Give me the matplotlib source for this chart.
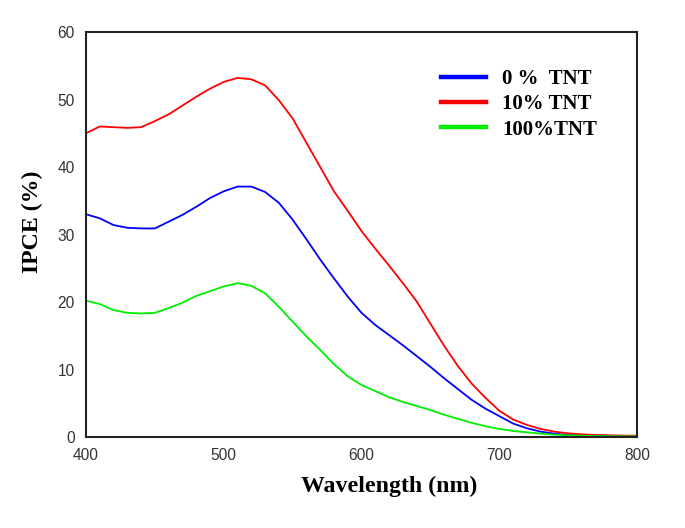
import matplotlib
matplotlib.use("Agg")
import matplotlib.pyplot as plt

wavelength = [400, 410, 420, 430, 440, 450, 460, 470, 480, 490, 500, 510, 520, 530, 540,
              550, 560, 570, 580, 590, 600, 610, 620, 630, 640, 650, 660, 670, 680, 690,
              700, 710, 720, 730, 740, 750, 760, 770, 780, 790, 800]

ipce_0 = [33.0, 32.4, 31.4, 31.0, 30.9, 30.9, 31.9, 32.9, 34.1, 35.4, 36.4, 37.1, 37.1, 36.3, 34.7,
          32.2, 29.3, 26.3, 23.5, 20.8, 18.4, 16.6, 15.1, 13.6, 12.0, 10.4, 8.7, 7.1, 5.5, 4.2,
          3.1, 2.0, 1.3, 0.8, 0.5, 0.3, 0.25, 0.2, 0.15, 0.12, 0.1]

ipce_10 = [45.0, 46.0, 45.9, 45.8, 45.9, 46.8, 47.8, 49.1, 50.4, 51.6, 52.6, 53.2, 53.0, 52.1, 49.9,
           47.2, 43.6, 40.0, 36.4, 33.5, 30.5, 27.9, 25.4, 22.8, 20.1, 16.8, 13.5, 10.5, 7.9, 5.8,
           3.9, 2.6, 1.8, 1.2, 0.8, 0.55, 0.4, 0.3, 0.25, 0.2, 0.2]

ipce_100 = [20.2, 19.7, 18.8, 18.4, 18.3, 18.4, 19.1, 19.9, 20.9, 21.6, 22.3, 22.8, 22.4, 21.3, 19.3,
            17.1, 14.9, 12.9, 10.8, 9.0, 7.7, 6.8, 5.9, 5.2, 4.6, 4.0, 3.3, 2.7, 2.1, 1.6,
            1.2, 0.9, 0.7, 0.5, 0.35, 0.25, 0.2, 0.15, 0.12, 0.1, 0.1]

labels = ["0 %  TNT", "10% TNT", "100%TNT"]
colors = ["#0000FF", "#FF0000", "#00EE00"]
x_ticks = [400, 500, 600, 700, 800]
y_ticks = [0, 10, 20, 30, 40, 50, 60]

fig = plt.figure(figsize=(6.85, 5.28), dpi=100)
ax = fig.add_axes([0.1255, 0.1723, 0.8045, 0.7671])

for y, lab, c in zip([ipce_0, ipce_10, ipce_100], labels, colors):
    ax.plot(wavelength, y, color=c, lw=1.3, label=lab)

ax.set_xlim(400, 800)
ax.set_ylim(0, 60)
ax.set_xticks(x_ticks)
ax.set_yticks(y_ticks)
ax.tick_params(length=0, labelsize=11.2, labelcolor="#333333", pad=8)
for lbl in ax.get_xticklabels() + ax.get_yticklabels():
    lbl.set_family("Liberation Sans")
for s in ax.spines.values():
    s.set_linewidth(1.5)
    s.set_color("#222222")

ax.set_xlabel("Wavelength (nm)", family="Liberation Serif", weight="bold", fontsize=17.2)
ax.set_ylabel("IPCE (%)", family="Liberation Serif", weight="bold", fontsize=17.2)
ax.xaxis.set_label_coords(0.55, -0.095)
ax.yaxis.set_label_coords(-0.078, 0.531)

leg = ax.legend(loc="upper left", bbox_to_anchor=(0.625, 0.934), frameon=False,
                prop={"family": "Liberation Serif", "weight": "bold", "size": 15},
                handlelength=2.16, handletextpad=0.8, labelspacing=0.25, borderpad=0)
for ln in leg.get_lines():
    ln.set_linewidth(3.2)

fig.savefig("out.png", dpi=100)
